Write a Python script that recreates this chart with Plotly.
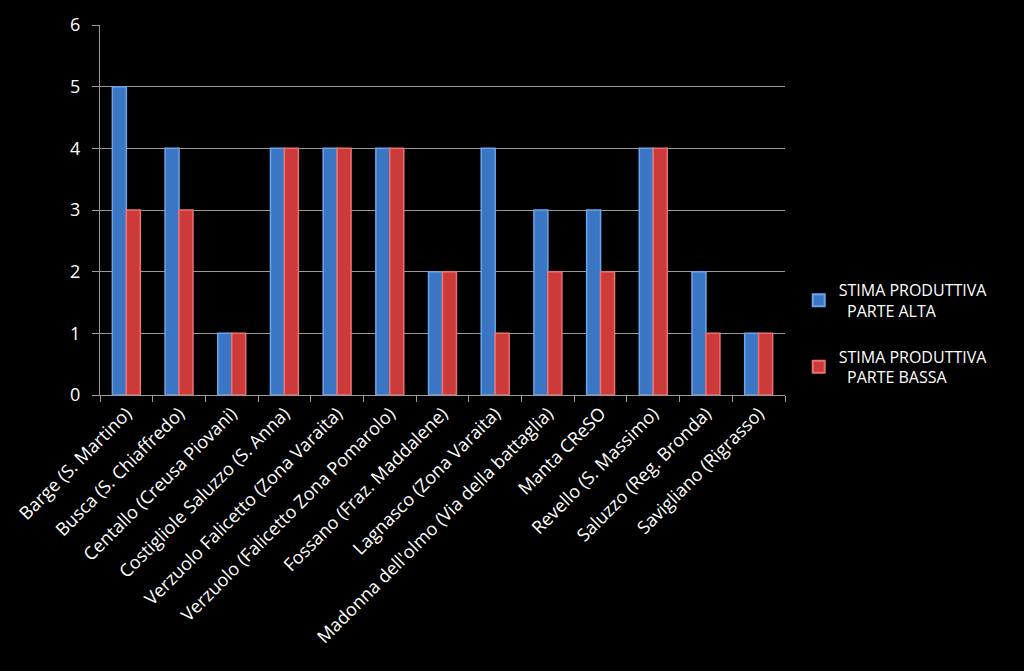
import plotly.graph_objects as go

categories = [
    "Barge (S. Martino)",
    "Busca (S. Chiaffredo)",
    "Centallo (Creusa Piovani)",
    "Costigliole Saluzzo (S. Anna)",
    "Verzuolo Falicetto (Zona Varaita)",
    "Verzuolo (Falicetto Zona Pomarolo)",
    "Fossano (Fraz. Maddalene)",
    "Lagnasco (Zona Varaita)",
    "Madonna dell'olmo (Via della battaglia)",
    "Manta CReSO",
    "Revello (S. Massimo)",
    "Saluzzo (Reg. Bronda)",
    "Savigliano (Rigrasso)",
]
parte_alta = [5, 4, 1, 4, 4, 4, 2, 4, 3, 3, 4, 2, 1]
parte_bassa = [3, 3, 1, 4, 4, 4, 2, 1, 2, 2, 4, 1, 1]

FONT = "Open Sans, Lato, sans-serif"

fig = go.Figure()
fig.add_trace(go.Bar(
    x=categories, y=parte_alta,
    name="STIMA PRODUTTIVA<br>  PARTE ALTA", legendgroup="a",
    marker=dict(color="#3b76c4", line=dict(color="#6aa6ec", width=1.5)),
))
fig.add_trace(go.Bar(
    x=categories, y=parte_bassa,
    name="STIMA PRODUTTIVA<br>  PARTE BASSA", legendgroup="b",
    marker=dict(color="#cc3a3a", line=dict(color="#ee7070", width=1.5)),
))

fig.update_layout(
    width=1024, height=671,
    paper_bgcolor="black", plot_bgcolor="black",
    margin=dict(l=100, r=239, t=23, b=276),
    barmode="group", bargap=0.47, bargroupgap=0,
    font=dict(family=FONT, color="white", size=17),
    showlegend=True,
    legend=dict(
        x=1.02, y=0.33, xanchor="left", yanchor="top",
        font=dict(size=16, color="white", family=FONT),
        bgcolor="rgba(0,0,0,0)", tracegroupgap=22,
        itemsizing="constant", itemwidth=30,
    ),
    xaxis=dict(
        tickangle=-45, tickson="boundaries",
        ticks="outside", ticklen=6, tickcolor="#9a9a9a",
        showline=True, linecolor="#9a9a9a", linewidth=1,
        showgrid=False,
        tickfont=dict(size=18, color="white", family=FONT),
    ),
    yaxis=dict(
        range=[0, 6], dtick=1,
        ticks="outside", ticklen=7, tickcolor="#9a9a9a",
        showline=True, linecolor="#9a9a9a", linewidth=1,
        showgrid=True, gridcolor="#9a9a9a", gridwidth=1,
        zeroline=False, ticklabelstandoff=8,
        tickfont=dict(size=18, color="white", family=FONT),
    ),
)

fig.write_html(
    "out.html",
    config={"displayModeBar": False},
    post_script="document.body.style.margin='0';document.body.style.background='black';",
)
